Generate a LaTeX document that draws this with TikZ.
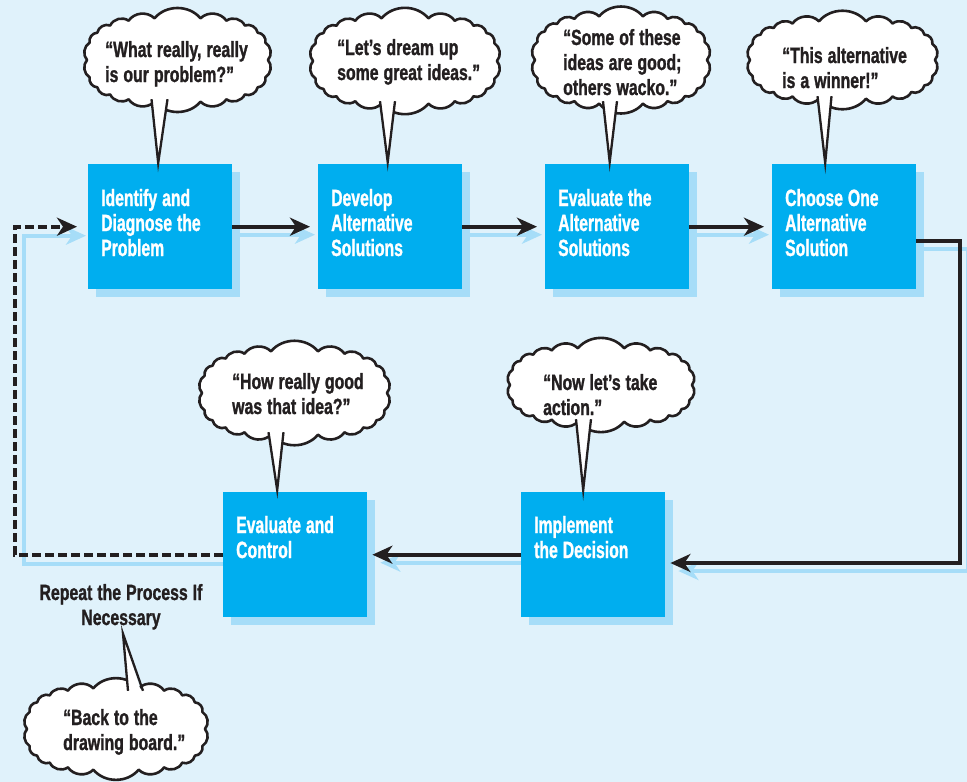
\documentclass[tikz,border=0pt]{standalone}
\usepackage{fontspec}
\newfontfamily\boxfont{Liberation Sans}[UprightFont={* Bold}, FakeStretch=0.67, FakeBold=1.2]
\newfontfamily\bubfont{Liberation Sans}[UprightFont={* Bold}, FakeStretch=0.72, FakeBold=1.2]
\usetikzlibrary{arrows.meta,calc,shadows}
\pgfdeclarelayer{paper}
\pgfdeclarelayer{under}
\pgfsetlayers{paper,under,main}

\definecolor{bgblue}{RGB}{224,242,251}
\definecolor{boxblue}{RGB}{0,174,239}
\definecolor{shadowblue}{RGB}{166,221,248}
\definecolor{ink}{RGB}{35,31,32}

% puffy speech cloud: #1 name, #2/#3 centre, #4/#5 half axes, #6 number of puffs
\newcommand\puffcloud[6]{%
  \node[cloudframe, minimum width={2*#4pt}, minimum height={2*#5pt}] (#1) at (#2,#3) {};
  \filldraw[cloudline] ({#2+#4*supx(0)},{#3+#5*supy(0)})
    \foreach \k in {1,...,#6} {
      to[bend left=50] ({#2+#4*supx(\k*360/#6)},{#3+#5*supy(\k*360/#6)})
    } -- cycle;
}
% tail of a speech cloud: #1 cloud, #2/#3 base offsets from its south, #4 tip
\newcommand\bubbletail[4]{%
  \fill[white] ($(#1.south)+(#2,-10)$) -- (#4) -- ($(#1.south)+(#3,-10)$) -- cycle;
  \draw[ink, line width=2.3pt, line join=miter]
    ($(#1.south)+(#2,-3)$) -- (#4) -- ($(#1.south)+(#3,-3)$);
}

\begin{document}
\begin{tikzpicture}[x=1pt,y=-1pt,
  declare function={supx(\t)=cos(\t)*(abs(cos(\t))+0.00001)^(-0.3);
                    supy(\t)=sin(\t)*(abs(sin(\t))+0.00001)^(-0.3);},
  stepbox/.style={fill=boxblue, inner sep=0pt, minimum width=144pt,
    minimum height=125pt, anchor=north west,
    drop shadow={shadow xshift=8pt,shadow yshift=-8pt,fill=shadowblue,opacity=1}},
  boxtext/.style={anchor=base west, inner sep=0pt, text width=135pt, align=left,
    text=white, font=\boxfont\fontsize{23.5}{25}\selectfont,
    execute at begin node={\spaceskip=5pt\relax}},
  cloudframe/.style={inner sep=0pt, shape=rectangle},
  cloudline/.style={draw=ink, fill=white, line width=2.6pt, line join=round},
  bubtext/.style={anchor=base west, inner sep=0pt, text width=180pt, align=left,
    text=ink, font=\bubfont\fontsize{22}{25}\selectfont,
    execute at begin node={\spaceskip=5pt\relax}},
  flow/.style={draw=ink, line width=4pt,
    -{Stealth[length=20pt,width=18pt,inset=6pt]}},
  flowshadow/.style={draw=shadowblue, line width=4pt,
    -{Stealth[length=20pt,width=18pt,inset=6pt]}},
]
\useasboundingbox (0,0) rectangle (967,782);
\begin{pgfonlayer}{paper}
  \fill[bgblue] (0,0) rectangle (967,782);
\end{pgfonlayer}

% process steps
\node[stepbox] (b1) at (88,164) {};
\node[stepbox] (b2) at (318,164) {};
\node[stepbox] (b3) at (545,164) {};
\node[stepbox] (b4) at (772,164) {};
\node[stepbox] (b5) at (223,492) {};
\node[stepbox] (b6) at (521,492) {};

\node[boxtext] (t1) at (101,206) {Identify and\\Diagnose the\\Problem};
\node[boxtext] (t2) at (331,206) {Develop\\Alternative\\Solutions};
\node[boxtext] (t3) at (558,206) {Evaluate the\\Alternative\\Solutions};
\node[boxtext] (t4) at (785,206) {Choose One\\Alternative\\Solution};
\node[boxtext] (t5) at (236,533) {Evaluate and\\Control};
\node[boxtext] (t6) at (534,533) {Implement\\the Decision};

% connector bends
\coordinate (rtop) at (960,241);
\coordinate (rbot) at (960,563);
\coordinate (lloop) at (15,0);

% connector shadows
\begin{pgfonlayer}{under}
  \draw[flowshadow, shorten >=8pt, transform canvas={xshift=5pt,yshift=-8pt}] (b1.east) -- (b2.west);
  \draw[flowshadow, shorten >=8pt, transform canvas={xshift=5pt,yshift=-8pt}] (b2.east) -- (b3.west);
  \draw[flowshadow, shorten >=8pt, transform canvas={xshift=5pt,yshift=-8pt}] (b3.east) -- (b4.west);
  \draw[flowshadow, transform canvas={xshift=8pt,yshift=-8pt}]
    (b4.east |- rtop) -- (rtop) -- (rbot) -- ($(b6.east |- rbot)+(5,0)$);
  \draw[flowshadow, transform canvas={xshift=8pt,yshift=-8pt}] (b6.west) -- ($(b5.east)+(5,0)$);
  \draw[flowshadow, shorten >=11pt, transform canvas={xshift=9pt,yshift=-9pt}]
    (b5.west) -- (b5.west -| lloop) |- (b1.west);
\end{pgfonlayer}

% connectors
\draw[flow, shorten >=8pt] (b1.east) -- (b2.west);
\draw[flow, shorten >=8pt] (b2.east) -- (b3.west);
\draw[flow, shorten >=8pt] (b3.east) -- (b4.west);
\draw[flow] (b4.east |- rtop) -- (rtop) -- (rbot) -- ($(b6.east |- rbot)+(5,0)$);
\draw[flow] (b6.west) -- ($(b5.east)+(5,0)$);
\draw[flow, dash pattern=on 9pt off 4pt, shorten >=11pt]
  (b5.west) -- (b5.west -| lloop) |- (b1.west);

% speech clouds
\puffcloud{c1}{177.5}{60}{90.5}{42}{22}
\bubbletail{c1}{-26}{-10}{$(b1.north)+(-2,-1)$}
\node[bubtext] (q1) at (105,57) {“What really, really\\is our problem?”};

\puffcloud{c2}{405}{61}{92}{43}{22}
\bubbletail{c2}{-25}{-10}{$(b2.north)+(-2.5,-2)$}
\node[bubtext] (q2) at (337,55) {“Let’s dream up\\some great ideas.”};

\puffcloud{c3}{621}{60}{86}{44}{22}
\bubbletail{c3}{-18}{-4}{$(b3.north)+(-7.5,-2)$}
\node[bubtext] (q3) at (563,45) {“Some of these\\ideas are good;\\others wacko.”};

\puffcloud{c4}{842.5}{60}{92.5}{39}{22}
\bubbletail{c4}{-25}{-11}{$(b4.north)+(-19,-1)$}
\node[bubtext] (q4) at (782,63) {“This alternative\\is a winner!”};

\puffcloud{c5}{294.5}{393}{92.5}{42}{22}
\bubbletail{c5}{-26}{-11}{$(b5.north)+(-18,-2)$}
\node[bubtext] (q5) at (232,389) {“How really good\\was that idea?”};

\puffcloud{c6}{601}{385}{91}{37}{22}
\bubbletail{c6}{-25}{-10}{$(b6.north)+(-10,-2)$}
\node[bubtext] (q6) at (543,390) {“Now let’s take\\action.”};

% feedback note
\node[bubtext, anchor=base, align=center, text width=200pt] (rep) at (121,600)
  {Repeat the Process If\\Necessary};
\puffcloud{c7}{116}{729}{89}{41}{22}
\fill[white] ($(c7.north)+(12,10)$) -- ($(rep.south)+(2,4)$) -- ($(c7.north)+(27,10)$) -- cycle;
\draw[ink, line width=2.3pt, line join=miter]
  ($(c7.north)+(12,3)$) -- ($(rep.south)+(2,4)$) -- ($(c7.north)+(27,3)$);
\node[bubtext] (q7) at (63,725) {“Back to the\\drawing board.”};
\end{tikzpicture}
\end{document}
